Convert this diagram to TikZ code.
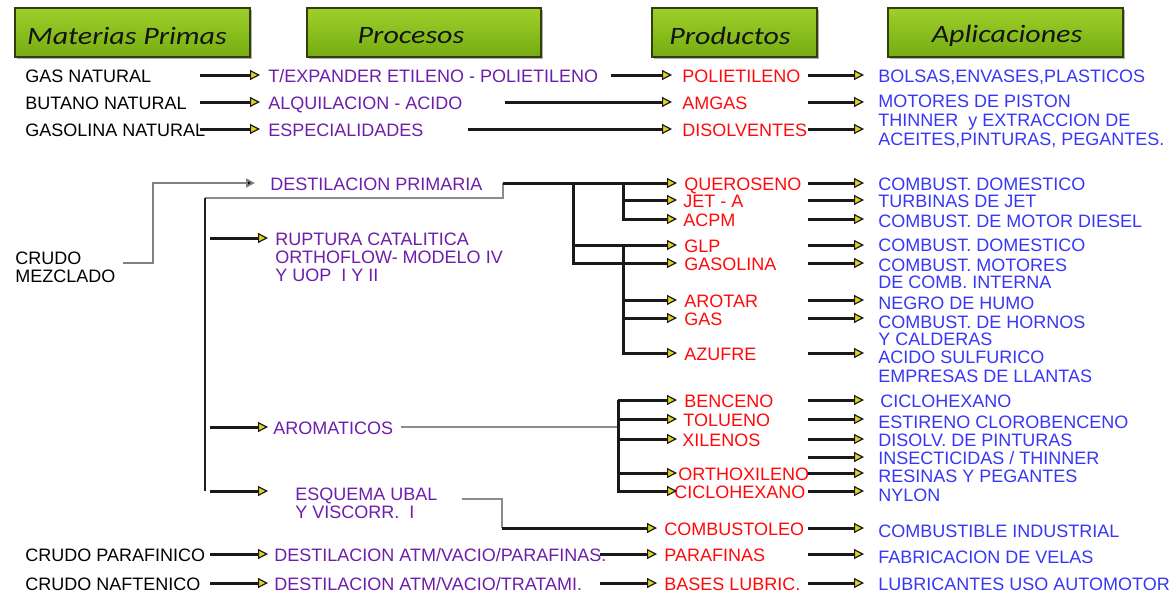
\documentclass[tikz,border=0pt]{standalone}
\usepackage{fontspec}
\usetikzlibrary{arrows.meta,calc,shadows}
\newfontfamily\arial{Liberation Sans}
\newfontfamily\hdrfont{Carlito}[FakeStretch=1.2]
\definecolor{procpurple}{RGB}{110,30,170}
\definecolor{prodred}{RGB}{255,10,10}
\definecolor{appblue}{RGB}{55,55,245}
\definecolor{tipyellow}{RGB}{225,215,20}
\definecolor{boxtop}{RGB}{158,208,42}
\definecolor{boxbot}{RGB}{118,172,18}
\definecolor{boxedge}{RGB}{50,62,14}
\begin{document}
\begin{tikzpicture}[x=0.5pt,y=-0.5pt,
  lbl/.style={inner sep=0pt, anchor=west, text height=7.8pt, text depth=0pt,
              font=\arial\fontsize{9}{10}\selectfont},
  raw/.style={lbl, text=black},
  proc/.style={lbl, text=procpurple},
  prod/.style={lbl, text=prodred},
  app/.style={lbl, text=appblue},
  hdrbox/.style={draw=boxedge, line width=1pt, top color=boxtop, bottom color=boxbot,
                 minimum height=24.5pt, inner sep=0pt,
                 drop shadow={shadow xshift=1.2pt, shadow yshift=-1.2pt, fill=black!60}},
  hdrtext/.style={font=\hdrfont\itshape\fontsize{12.5}{14}\selectfont, text=black!92, inner sep=0pt},
  arr/.style={draw=black!90, line width=1.5pt,
              -{Triangle[length=5pt,width=5pt,line width=0.6pt,fill=tipyellow]}},
  garr/.style={draw=black!50, line width=0.9pt,
              -{Triangle[length=4.5pt,width=4.5pt,fill=black]}},
  link/.style={draw=black!88, line width=1.4pt},
  glink/.style={draw=black!45, line width=1.2pt},
]
\useasboundingbox[fill=white] (0,0) rectangle (1176,594);

% ---------- column headers ----------
\node[hdrbox, minimum width=117.5pt] (h1box) at (132.5,32.5) {};
\node[hdrbox, minimum width=117pt]   (h2box) at (424,32.5) {};
\node[hdrbox, minimum width=82.5pt]  (h3box) at (734.5,32.5) {};
\node[hdrbox, minimum width=117.5pt] (h4box) at (1005.5,32.5) {};
\node[hdrtext] (h1) at (127,36) {Materias Primas};
\node[hdrtext] (h2) at (411,36) {Procesos};
\node[hdrtext] (h3) at (730,36) {Productos};
\node[hdrtext] (h4) at (1007,36) {Aplicaciones};

% ---------- raw materials ----------
\node[raw] (gasnat)   at (25,75)  {GAS NATURAL};
\node[raw] (butnat)   at (25,102) {BUTANO NATURAL};
\node[raw] (gasolnat) at (25,129) {GASOLINA NATURAL};
\node[raw] (crudo1)   at (15,257) {CRUDO};
\node[raw] (crudo2)   at (15,275) {MEZCLADO};
\node[raw] (crparaf)  at (25,554) {CRUDO PARAFINICO};
\node[raw] (crnaft)   at (25,583) {CRUDO NAFTENICO};

% ---------- processes ----------
\node[proc] (texp)     at (268,75)  {T/EXPANDER ETILENO - POLIETILENO};
\node[proc] (alqui)    at (268,102) {ALQUILACION - ACIDO};
\node[proc] (espec)    at (268,129) {ESPECIALIDADES};
\node[proc] (destprim) at (270,183) {DESTILACION PRIMARIA};
\node[proc] (rupt1)    at (275,238) {RUPTURA CATALITICA};
\node[proc] (rupt2)    at (275,256) {ORTHOFLOW- MODELO IV};
\node[proc] (rupt3)    at (275,274) {Y UOP\ \ I Y II};
\node[proc] (arom)     at (273,427) {AROMATICOS};
\node[proc] (esq1)     at (295,493) {ESQUEMA UBAL};
\node[proc] (esq2)     at (295,511) {Y VISCORR.\ \ I};
\node[proc] (datmp)    at (274,554) {DESTILACION ATM/VACIO/PARAFINAS.};
\node[proc] (datmt)    at (274,583) {DESTILACION ATM/VACIO/TRATAMI.};

% ---------- products ----------
\node[prod] (poli)   at (682,75)  {POLIETILENO};
\node[prod] (amgas)  at (682,102) {AMGAS};
\node[prod] (disolv) at (682,129) {DISOLVENTES};
\node[prod] (quer)   at (684,183) {QUEROSENO};
\node[prod] (jet)    at (683,200) {JET - A};
\node[prod] (acpm)   at (683,219) {ACPM};
\node[prod] (glp)    at (684,245) {GLP};
\node[prod] (gasol)  at (684,263) {GASOLINA};
\node[prod] (arotar) at (684,300) {AROTAR};
\node[prod] (gas)    at (684,318) {GAS};
\node[prod] (azufre) at (684,353) {AZUFRE};
\node[prod] (benc)   at (684,400) {BENCENO};
\node[prod] (tolu)   at (683,419) {TOLUENO};
\node[prod] (xil)    at (682,439) {XILENOS};
\node[prod] (ortho)  at (678,473) {ORTHOXILENO};
\node[prod] (ciclo)  at (674,491) {CICLOHEXANO};
\node[prod] (combt)  at (664,528) {COMBUSTOLEO};
\node[prod] (paraf)  at (664,554) {PARAFINAS};
\node[prod] (bases)  at (664,583) {BASES LUBRIC.};

% ---------- applications ----------
\node[app] (bolsas)  at (878,75)  {BOLSAS,ENVASES,PLASTICOS};
\node[app] (motores) at (878,100) {MOTORES DE PISTON};
\node[app] (thin1)   at (878,119) {THINNER\ \ y EXTRACCION DE};
\node[app] (thin2)   at (878,138) {ACEITES,PINTURAS, PEGANTES.};
\node[app] (a1)  at (878,183) {COMBUST. DOMESTICO};
\node[app] (a2)  at (878,200) {TURBINAS DE JET};
\node[app] (a3)  at (878,220) {COMBUST. DE MOTOR DIESEL};
\node[app] (a4)  at (878,244) {COMBUST. DOMESTICO};
\node[app] (a5a) at (878,264) {COMBUST. MOTORES};
\node[app] (a5b) at (878,281) {DE COMB. INTERNA};
\node[app] (a6)  at (878,302) {NEGRO DE HUMO};
\node[app] (a7a) at (878,321) {COMBUST. DE HORNOS};
\node[app] (a7b) at (878,338) {Y CALDERAS};
\node[app] (a8a) at (878,356) {ACIDO SULFURICO};
\node[app] (a8b) at (878,375) {EMPRESAS DE LLANTAS};
\node[app] (b1)  at (880,400) {CICLOHEXANO};
\node[app] (b2)  at (878,421) {ESTIRENO CLOROBENCENO};
\node[app] (b3)  at (878,439) {DISOLV. DE PINTURAS};
\node[app] (b4)  at (878,457) {INSECTICIDAS / THINNER};
\node[app] (b5)  at (878,475) {RESINAS Y PEGANTES};
\node[app] (b6)  at (878,494) {NYLON};
\node[app] (c1)  at (878,530) {COMBUSTIBLE INDUSTRIAL};
\node[app] (c2)  at (878,556) {FABRICACION DE VELAS};
\node[app] (c3)  at (878,583) {LUBRICANTES USO AUTOMOTOR};

% ---------- arrow columns and junctions ----------
\coordinate (c1s) at (200,0);
\coordinate (c1e) at (260,0);
\coordinate (b1s) at (210,0);
\coordinate (b1e) at (268,0);
\coordinate (c2s) at (600,0);
\coordinate (c2e) at (657,0);
\coordinate (tipx) at (677,0);
\coordinate (c3s) at (808,0);
\coordinate (c3e) at (864,0);
\coordinate (cm) at (123,263);
\coordinate (dp) at (503,183);
\coordinate (tr) at (205,198);
\coordinate (tb) at (205,491);
\coordinate (v1) at (573,183);
\coordinate (v2) at (623,183);
\coordinate (av) at (618,400);
\coordinate (es) at (462,499);
\coordinate (ec) at (502,528);

% raw materials -> processes
\foreach \r in {gasnat,butnat,gasolnat}
  \draw[arr] (c1s |- \r.west) -- (c1e |- \r.west);
\foreach \r in {crparaf,crnaft}
  \draw[arr] (b1s |- \r.west) -- (b1e |- \r.west);

% mixed crude -> primary distillation
\draw[garr] (cm) -- ++(30,0) |- ([xshift=-7.5pt]destprim.west);

% primary distillation -> secondary processes
\draw[glink] (dp) -- ++(0,15) -- (tr);
\draw[link] (tr) -- (tb);
\draw[arr] (b1s |- rupt1.west) -- (b1e |- rupt1.west);
\draw[arr] (b1s |- arom.west) -- (b1e |- arom.west);
\draw[arr] (b1s |- tb) -- (b1e |- tb);

% processes -> products (top and bottom rows)
\draw[arr] ([xshift=6pt]texp.east) -- ([xshift=-5pt]poli.west);
\draw[arr] ([xshift=21pt]alqui.east) -- ([xshift=-5pt]amgas.west);
\draw[arr] ([xshift=22pt]espec.east) -- ([xshift=-5pt]disolv.west);
\draw[arr] (c2s |- paraf.west) -- (c2e |- paraf.west);
\draw[arr] (c2s |- bases.west) -- (c2e |- bases.west);

% primary distillation product tree
\draw[arr] (dp) -- (tipx |- quer.west);
\draw[arr] (v2) |- (tipx |- jet.west);
\draw[arr] (v2) |- (tipx |- acpm.west);
\draw[arr] (v1) |- (tipx |- glp.west);
\draw[arr] (v1) |- (tipx |- gasol.west);
\draw[arr] (v2 |- glp.west) |- (tipx |- arotar.west);
\draw[arr] (v2 |- glp.west) |- (tipx |- gas.west);
\draw[arr] (v2 |- glp.west) |- (tipx |- azufre.west);

% aromatics product tree
\draw[glink] ([xshift=4pt]arom.east) -- (av |- arom.west);
\foreach \p in {benc,tolu,xil,ortho,ciclo}
  \draw[arr] (av) |- (tipx |- \p.west);

% visbreaking -> fuel oil
\draw[glink] (es) -| (ec);
\draw[arr] (ec) -- (c2e |- combt.west);

% products -> applications
\foreach \p in {poli,amgas,disolv,quer,jet,acpm,glp,gasol,arotar,gas,azufre,
                benc,tolu,xil,b4,ortho,ciclo,combt,paraf,bases}
  \draw[arr] (c3s |- \p.west) -- (c3e |- \p.west);
\end{tikzpicture}
\end{document}
